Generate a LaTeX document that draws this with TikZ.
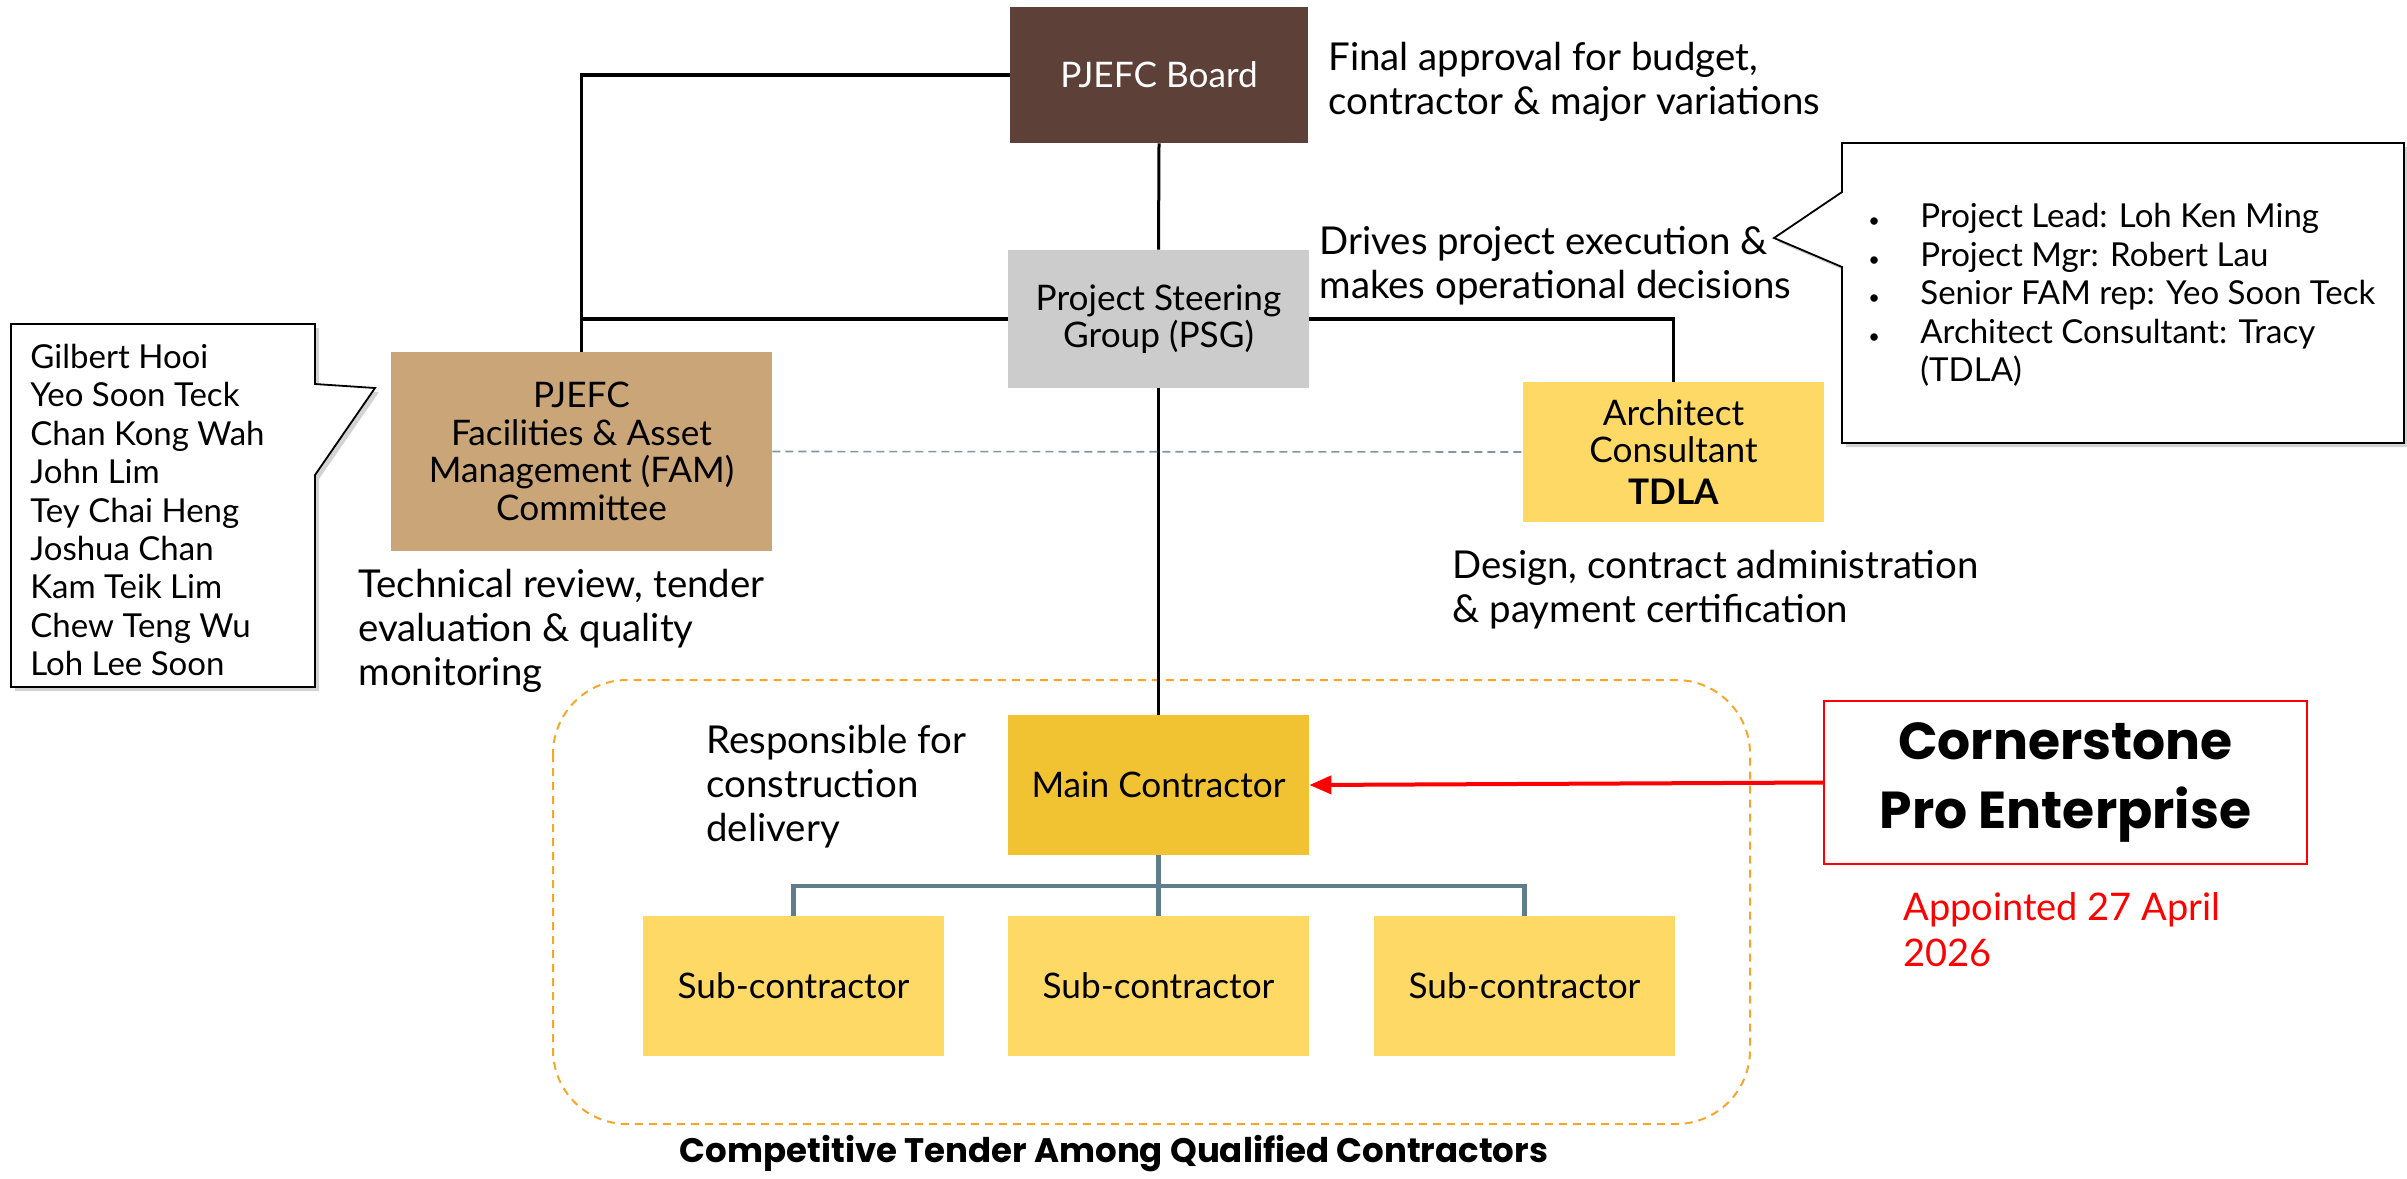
\documentclass[tikz,border=0pt]{standalone}
\usepackage{fontspec}
\setmainfont{Lato}
\newfontfamily\popfont{Poppins}
\usetikzlibrary{arrows.meta,shadows}
\definecolor{boardbrown}{HTML}{5D4037}
\definecolor{psggrey}{HTML}{CCCCCC}
\definecolor{famtan}{HTML}{C9A577}
\definecolor{lightyel}{HTML}{FFD966}
\definecolor{mainyel}{HTML}{F1C232}
\definecolor{slate}{HTML}{5F7D8C}
\definecolor{dashgrey}{HTML}{7F96A3}
\definecolor{tenderorange}{HTML}{F4A72A}
\definecolor{appred}{HTML}{FF0000}
\begin{document}
\begin{tikzpicture}[x=0.5pt,y=-0.5pt,
  orgbox/.style={minimum width=150.5pt, minimum height=70pt, inner sep=2pt, align=center,
    font=\fontsize{17.6}{18.75}\selectfont},
  desc/.style={anchor=west, inner sep=0pt, align=left, font=\fontsize{19.2}{22}\selectfont},
  conn/.style={line width=1.9pt, black},
  subconn/.style={line width=2.2pt, slate},
  callout/.style={draw=black, line width=0.9pt, fill=white,
    drop shadow={opacity=0.35, shadow xshift=2pt, shadow yshift=-2pt}},
]
\useasboundingbox (0,0) rectangle (2407,1178);

% tender group
\draw[tenderorange, line width=1pt, dash pattern=on 4pt off 3pt, rounded corners=37pt]
  (553,680) rectangle (1750,1124);
\node[font=\popfont\bfseries\fontsize{17}{20}\selectfont, inner sep=0] (tender) at (1114,1154)
  {Competitive Tender Among Qualified Contractors};

% boxes
\node[orgbox, fill=boardbrown, text=white, minimum width=149pt, minimum height=68pt] (board) at (1159,75) {PJEFC Board};
\node[orgbox, fill=psggrey, minimum height=69pt] (psg) at (1158.5,319) {Project Steering\\Group (PSG)};
\node[orgbox, fill=famtan, minimum width=190.5pt, minimum height=99.5pt] (fam) at (581.5,451.5)
  {PJEFC\\Facilities \& Asset\\Management (FAM)\\Committee};
\node[orgbox, fill=lightyel] (arch) at (1673.5,452)
  {Architect\\Consultant\\[2pt]\textbf{TDLA}};
\node[orgbox, fill=mainyel] (main) at (1158.5,785) {Main Contractor};
\node[orgbox, fill=lightyel] (sub1) at (793.5,986) {Sub-contractor};
\node[orgbox, fill=lightyel] (sub2) at (1158.5,986) {Sub-contractor};
\node[orgbox, fill=lightyel] (sub3) at (1524.5,986) {Sub-contractor};
\node[draw=appred, line width=1pt, minimum width=241.5pt, minimum height=81.5pt, align=center,
  font=\popfont\bfseries\fontsize{26}{34.5}\selectfont] (corner) at (2065.5,782.5) {Cornerstone\\Pro Enterprise};

% connectors
\draw[conn] (board.west) -| (fam.north);
\draw[conn] (psg.west) -- (fam.north |- psg.west);
\draw[conn] (psg.east) -| (arch.north);
\draw[conn, line width=1.5pt] (board.south) -- (psg.north);
\draw[conn, line width=1.5pt] (psg.south) -- (main.north);
\draw[dashgrey, line width=0.8pt, dash pattern=on 4pt off 2.5pt] (fam.east) -- (arch.west);
\coordinate (bus) at (1158.5,886);
\draw[subconn] (main.south) -- (bus);
\draw[subconn] (sub1.north) |- (bus) -| (sub3.north);
\draw[subconn] (bus) -- (sub2.north);
\draw[appred, line width=2pt, -{Triangle[length=11pt,width=9pt]}] (corner.west) -- (main.east);

% descriptions
\node[desc] (boardnote) at (1328,81.5) {Final approval for budget,\\contractor \& major variations};
\node[desc] (psgnote) at (1319,266) {Drives project execution \&\\makes operational decisions};
\node[desc] (famnote) at (358,631) {Technical review, tender\\evaluation \& quality\\monitoring};
\node[desc] (archnote) at (1452,590) {Design, contract administration\\\& payment certification};
\node[desc] (mainnote) at (706,787) {Responsible for\\construction\\delivery};
\node[desc, text=appred, font=\fontsize{19}{23}\selectfont] (appointed) at (1903,930) {Appointed 27 April\\2026};

% names callout
\draw[callout] (11,324) -- (315,324) -- (315,384) -- (375,388) -- (315,475) -- (315,687) -- (11,687) -- cycle;
\node[anchor=west, inner sep=0, align=left, font=\fontsize{16.5}{19.2}\selectfont] (names) at (30,510)
  {Gilbert Hooi\\Yeo Soon Teck\\Chan Kong Wah\\John Lim\\Tey Chai Heng\\Joshua Chan\\Kam Teik Lim\\Chew Teng Wu\\Loh Lee Soon};

% psg members callout
\draw[callout] (1842,143) -- (2404,143) -- (2404,443) -- (1842,443) -- (1842,267) -- (1774,238) -- (1842,192) -- cycle;
\node[anchor=west, inner sep=0, font=\fontsize{16.5}{19.25}\selectfont] (members) at (1868,297)
  {\begin{tabular}{@{}p{26pt}@{}l@{}}
  {\fontsize{10}{10}\selectfont\textbullet} & Project Lead: Loh Ken Ming\\
  {\fontsize{10}{10}\selectfont\textbullet} & Project Mgr: Robert Lau\\
  {\fontsize{10}{10}\selectfont\textbullet} & Senior FAM rep: Yeo Soon Teck\\
  {\fontsize{10}{10}\selectfont\textbullet} & Architect Consultant: Tracy\\
   & (TDLA)
  \end{tabular}};
\end{tikzpicture}
\end{document}
